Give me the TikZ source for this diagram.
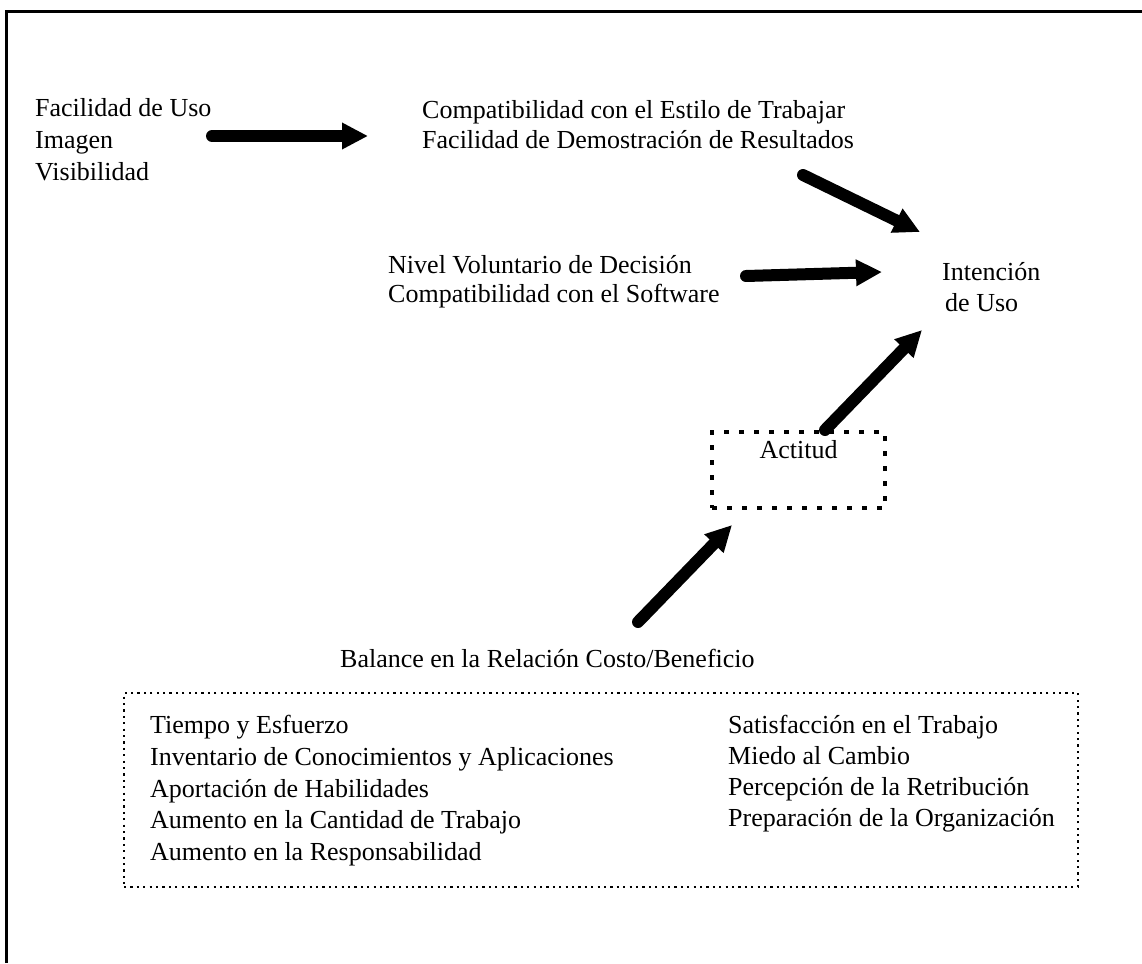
\documentclass[tikz,border=0pt]{standalone}
\usepackage{fontspec}
\setmainfont{Liberation Serif}
\usetikzlibrary{arrows.meta}

\tikzset{
  txt/.style={anchor=base west, inner sep=0pt, font=\fontsize{26}{31}\selectfont},
  bigarrow/.style={line width=12pt, line cap=round,
    -{Triangle[length=26pt,width=25pt]}},
  attbox/.style={line width=3.5pt, dash pattern=on 5pt off 10pt},
  groupbox/.style={line width=1.8pt, dash pattern=on 2.2pt off 4.2pt},
  frameline/.style={line width=3pt}
}

\begin{document}
\begin{tikzpicture}[x=1pt, y=-1pt]
  \useasboundingbox (0,0) rectangle (1142,963);

  % partial outer frame (top and left edges)
  \coordinate (fbl) at (6,963);
  \coordinate (ftl) at (6,12);
  \coordinate (ftr) at (1142,12);
  \draw[frameline] (fbl) -- (ftl) -- (ftr);

  % first group of factors
  \node[txt] (f1) at (35,117) {Facilidad de Uso};
  \node[txt] (f2) at (35,148) {Imagen};
  \node[txt] (f3) at (35,180) {Visibilidad};

  % second group
  \node[txt] (c1) at (422,118) {Compatibilidad con el Estilo de Trabajar};
  \node[txt] (c2) at (422,148) {Facilidad de Demostración de Resultados};

  % third group
  \node[txt] (n1) at (388,273) {Nivel Voluntario de Decisión};
  \node[txt] (n2) at (388,302) {Compatibilidad con el Software};

  % target
  \node[txt] (i1) at (942,280) {Intención};
  \node[txt] (i2) at (945,311) {de Uso};

  % attitude box
  \node[draw, attbox, minimum width=173pt, minimum height=76pt, inner sep=0pt]
    (act) at (798.5,470) {};
  \node[anchor=base, inner sep=0pt, font=\fontsize{26}{31}\selectfont]
    (acttxt) at (798.5,458) {Actitud};

  % cost / benefit
  \node[txt] (bal) at (340,667) {Balance en la Relación Costo/Beneficio};
  \node[draw, groupbox, minimum width=954pt, minimum height=194pt, inner sep=0pt]
    (grp) at (601,790) {};

  \node[txt] (l1) at (150,733) {Tiempo y Esfuerzo};
  \node[txt] (l2) at (150,765) {Inventario de Conocimientos y Aplicaciones};
  \node[txt] (l3) at (150,797) {Aportación de Habilidades};
  \node[txt] (l4) at (150,828) {Aumento en la Cantidad de Trabajo};
  \node[txt] (l5) at (150,860) {Aumento en la Responsabilidad};

  \node[txt] (r1) at (728,733) {Satisfacción en el Trabajo};
  \node[txt] (r2) at (728,764) {Miedo al Cambio};
  \node[txt] (r3) at (728,795) {Percepción de la Retribución};
  \node[txt] (r4) at (728,826) {Preparación de la Organización};

  % arrow end points
  \coordinate (a1s) at (212,136);  \coordinate (a1e) at (368,136);
  \coordinate (a2s) at (803,175);  \coordinate (a2e) at (920,232);
  \coordinate (a3s) at (746,276);  \coordinate (a3e) at (882,272);
  \coordinate (a4s) at (825,430);  \coordinate (a4e) at (922,330);
  \coordinate (a5s) at (638,622);  \coordinate (a5e) at (732,525);

  \draw[bigarrow] (a1s) -- (a1e);
  \draw[bigarrow] (a2s) -- (a2e);
  \draw[bigarrow] (a3s) -- (a3e);
  \draw[bigarrow] (a4s) -- (a4e);
  \draw[bigarrow] (a5s) -- (a5e);
\end{tikzpicture}
\end{document}
